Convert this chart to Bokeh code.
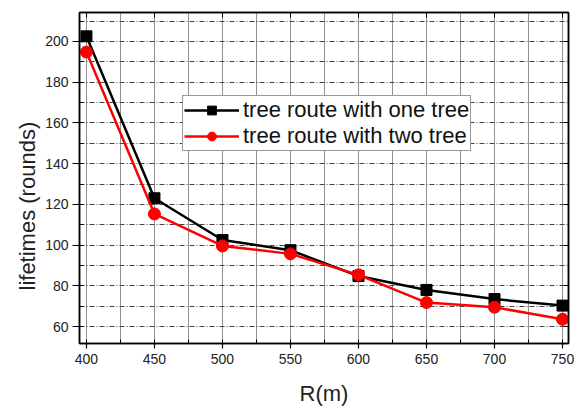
from bokeh.plotting import figure
from bokeh.models import (LinearAxis, SingleIntervalTicker, Range1d, Legend, LegendItem,
                          CustomJSTickFormatter, Title)
from bokeh.embed import file_html
from bokeh.resources import INLINE

R = [400, 450, 500, 550, 600, 650, 700, 750]
one_tree = [202.5, 123, 102.5, 97.5, 84.8, 78, 73.5, 70.3]
two_tree = [194.8, 115.3, 99.6, 95.7, 85.4, 71.8, 69.5, 63.6]
labels = ["tree route with one tree", "tree route with two tree"]
x_title = "R(m)"
y_title = "lifetimes (rounds)"
FONT = "Liberation Sans"

p = figure(width=576, height=408, output_backend="svg", toolbar_location=None,
           x_range=Range1d(394.9, 754.4), y_range=Range1d(51.7, 214.2),
           x_axis_label=x_title,
           min_border_left=79, min_border_right=8, min_border_top=12, min_border_bottom=65)
p.background_fill_color = "white"
p.border_fill_color = "white"
p.outline_line_color = "black"
p.outline_line_width = 1.5

xt = SingleIntervalTicker(interval=50, num_minor_ticks=2)
yt = SingleIntervalTicker(interval=20, num_minor_ticks=2)

for ax, t in ((p.xaxis[0], xt), (p.yaxis[0], yt)):
    ax.ticker = t
    ax.axis_line_color = "black"
    ax.axis_line_width = 1.5
    ax.major_tick_line_color = "black"
    ax.major_tick_line_width = 1.2
    ax.minor_tick_line_color = "black"
    ax.major_tick_in = 0
    ax.minor_tick_out = 0
    ax.minor_tick_in = 4
    ax.major_label_text_font = FONT
    ax.major_label_text_font_size = "14px"
    ax.major_label_text_color = "#222222"
    ax.axis_label_text_font = FONT
    ax.axis_label_text_font_size = "22px"
    ax.axis_label_text_font_style = "normal"
    ax.axis_label_text_color = "#222222"

p.xaxis.major_tick_out = 5
p.xaxis.major_label_standoff = 5
p.xaxis.axis_label_standoff = 14
p.yaxis.major_tick_out = 7
p.yaxis.major_label_standoff = 4

for loc, t in (("right", yt), ("above", xt)):
    ax = LinearAxis(ticker=t, formatter=CustomJSTickFormatter(code="return ''"))
    ax.axis_line_color = "black"
    ax.axis_line_width = 1.5
    ax.major_tick_in = 5
    ax.major_tick_out = 0
    ax.minor_tick_in = 0
    ax.minor_tick_out = 0
    ax.major_tick_line_color = "black"
    ax.major_label_standoff = 0
    p.add_layout(ax, loc)

# y-axis title as a side title, so it can sit off-centre as in the original
ytitle = Title(text=y_title, align="left", offset=53, standoff=6,
               text_font=FONT, text_font_size="22px", text_font_style="normal",
               text_color="#222222")
p.add_layout(ytitle, "left")

p.xgrid.ticker = xt
p.ygrid.ticker = yt
p.xgrid.grid_line_color = None
p.ygrid.grid_line_color = None
p.xgrid.minor_grid_line_color = "#222222"
p.xgrid.minor_grid_line_dash = "1 1"
p.xgrid.minor_grid_line_width = 1
p.ygrid.minor_grid_line_color = "#444444"
p.ygrid.minor_grid_line_dash = "5 2 1 2"
p.ygrid.minor_grid_line_width = 1

l1 = p.line(R, one_tree, line_color="black", line_width=2.5)
s1 = p.scatter(R, one_tree, marker="square", size=11, fill_color="black", line_color="black")
l2 = p.line(R, two_tree, line_color="red", line_width=2.5)
s2 = p.scatter(R, two_tree, marker="circle", size=12, fill_color="red", line_color="red")

legend = Legend(items=[LegendItem(label=labels[0], renderers=[l1, s1]),
                       LegendItem(label=labels[1], renderers=[l2, s2])],
                location=(103, 192))
legend.label_text_font = FONT
legend.label_text_font_size = "22px"
legend.label_text_color = "#111111"
legend.glyph_width = 55
legend.glyph_height = 22
legend.label_height = 22
legend.label_standoff = 4
legend.spacing = 0
legend.padding = 1
legend.margin = 0
legend.border_line_color = "#333333"
legend.border_line_width = 1.5
legend.background_fill_color = "white"
legend.background_fill_alpha = 1
p.add_layout(legend, "center")

open("out.html", "w").write(file_html(p, INLINE))
